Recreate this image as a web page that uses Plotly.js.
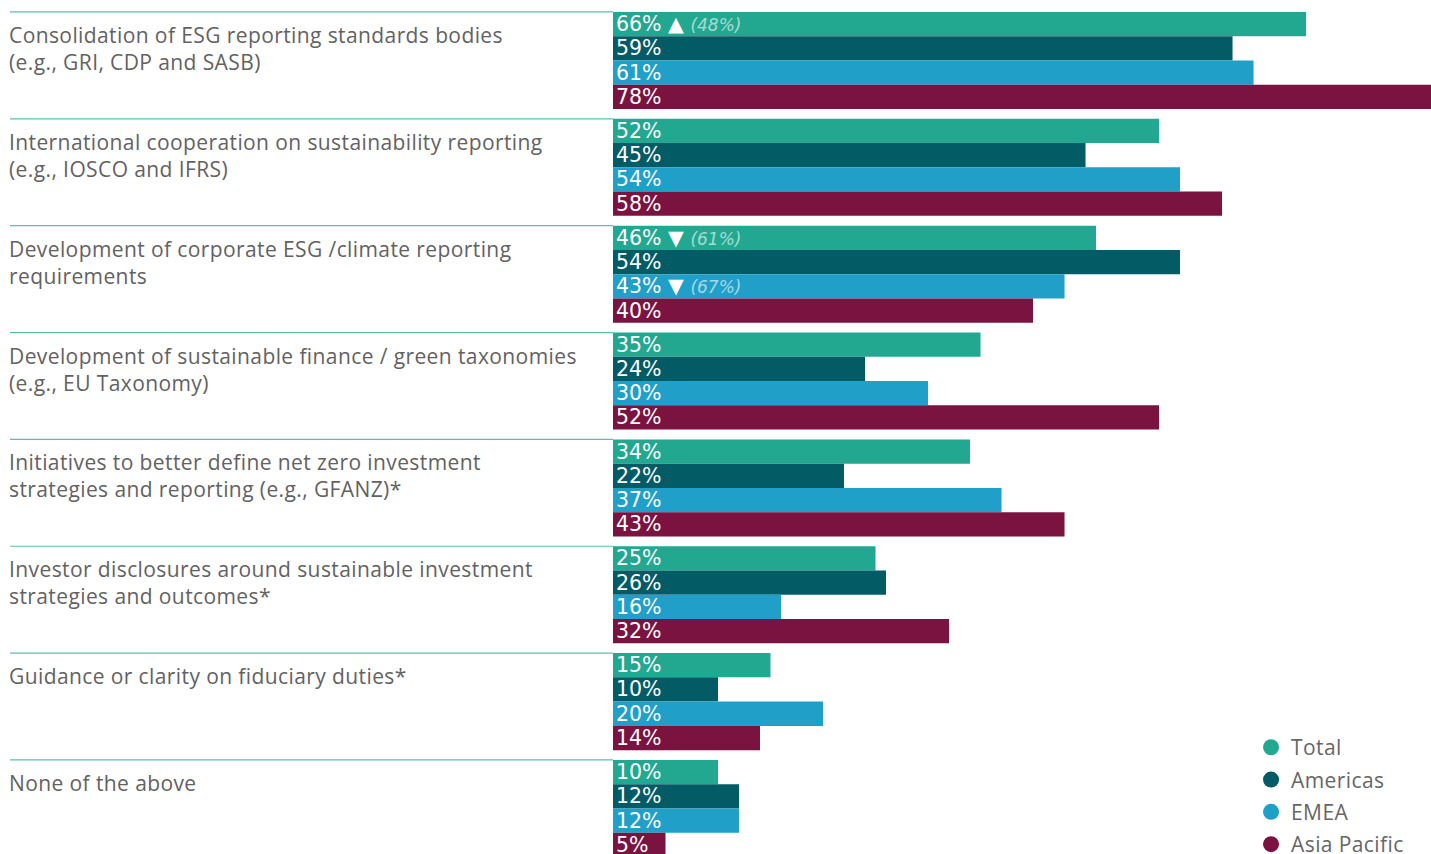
<!DOCTYPE html>
<html>
<head>
<meta charset="utf-8">
<script src="https://cdn.plot.ly/plotly-3.0.1.min.js"></script>
<style>
  html, body { margin: 0; padding: 0; background: #fff; }
  #chart { width: 1431px; height: 854px; }
  #chart .annotation-text, #chart .legendtext { letter-spacing: 0.4px; }
</style>
</head>
<body>
<div id="chart"></div>
<script>
var categories = [
    "Consolidation of ESG reporting standards bodies<br>(e.g., GRI, CDP and SASB)",
    "International cooperation on sustainability reporting<br>(e.g., IOSCO and IFRS)",
    "Development of corporate ESG /climate reporting<br>requirements",
    "Development of sustainable finance / green taxonomies<br>(e.g., EU Taxonomy)",
    "Initiatives to better define net zero investment<br>strategies and reporting (e.g., GFANZ)*",
    "Investor disclosures around sustainable investment<br>strategies and outcomes*",
    "Guidance or clarity on fiduciary duties*",
    "None of the above"
];

var totalVals    = [66, 52, 46, 35, 34, 25, 15, 10];
var americasVals = [59, 45, 54, 24, 22, 26, 10, 12];
var emeaVals     = [61, 54, 43, 30, 37, 16, 20, 12];
var apacVals     = [78, 58, 40, 52, 43, 32, 14, 5];

// previous-year markers shown after a few labels
var totalNotes = [["▲", "(48%)"], null, ["▼", "(61%)"], null, null, null, null, null];
var emeaNotes  = [null, null, ["▼", "(67%)"], null, null, null, null, null];

var seriesNames  = ["Total", "Americas", "EMEA", "Asia Pacific"];
var seriesColors = ["#22a891", "#035b66", "#209fc8", "#7b1340"];

function labels(vals, notes) {
    return vals.map(function (v, i) {
        var s = v + "%";
        if (notes && notes[i]) {
            s += " " + notes[i][0] + " <span style='color:rgba(255,255,255,0.6);font-size:17px'><i>" + notes[i][1] + "</i></span>";
        }
        return s;
    });
}

var allVals = [totalVals, americasVals, emeaVals, apacVals];
var allNotes = [totalNotes, null, emeaNotes, null];

var traces = allVals.map(function (vals, k) {
    return {
        type: 'bar',
        orientation: 'h',
        x: vals,
        y: categories,
        name: seriesNames[k],
        marker: {color: seriesColors[k], line: {width: 0}},
        text: labels(vals, allNotes[k]),
        textposition: 'inside',
        insidetextanchor: 'start',
        textangle: 0,
        constraintext: 'none',
        cliponaxis: true,
        textfont: {family: 'DejaVu Sans', size: 20.5, color: '#ffffff'},
        hoverinfo: 'skip',
        showlegend: false
    };
});

// legend entries drawn as circles
seriesNames.forEach(function (n, k) {
    traces.push({
        type: 'scatter',
        mode: 'markers',
        x: [null],
        y: [null],
        name: n,
        legendgroup: 'g' + k,
        marker: {color: seriesColors[k], size: 17, symbol: 'circle'},
        showlegend: true
    });
});

var gap = 0.092;
var leftPaper = -603 / 818;

var shapes = categories.map(function (c, i) {
    return {
        type: 'line',
        xref: 'paper', yref: 'y',
        x0: leftPaper, x1: 0,
        y0: i - (1 - gap) / 2, y1: i - (1 - gap) / 2,
        line: {color: '#5bbfad', width: 1.2}
    };
});

var annotations = categories.map(function (c, i) {
    return {
        xref: 'paper', yref: 'y',
        x: leftPaper, y: i - (1 - gap) / 2,
        xanchor: 'left', yanchor: 'top',
        xshift: -3,
        yshift: -7,
        align: 'left',
        showarrow: false,
        text: c,
        font: {family: 'Open Sans', size: 21, color: '#626262'}
    };
});

var layout = {
    width: 1431,
    height: 854,
    margin: {l: 613, r: 0, t: 0, b: 0, autoexpand: false},
    paper_bgcolor: '#ffffff',
    plot_bgcolor: '#ffffff',
    barmode: 'group',
    bargap: gap,
    bargroupgap: 0,
    xaxis: {
        range: [0, 77.9],
        showgrid: false, zeroline: false, showticklabels: false, showline: false, ticks: ''
    },
    yaxis: {
        type: 'category',
        range: [7.426, -0.566],
        showgrid: false, zeroline: false, showticklabels: false, showline: false, ticks: ''
    },
    legend: {
        x: 0.78, y: -0.013, xanchor: 'left', yanchor: 'bottom',
        bgcolor: 'rgba(0,0,0,0)',
        tracegroupgap: 2,
        font: {family: 'Open Sans', size: 21, color: '#666666'}
    },
    shapes: shapes,
    annotations: annotations,
    showlegend: true
};

Plotly.newPlot('chart', traces, layout, {displayModeBar: false, staticPlot: true});
</script>
</body>
</html>
